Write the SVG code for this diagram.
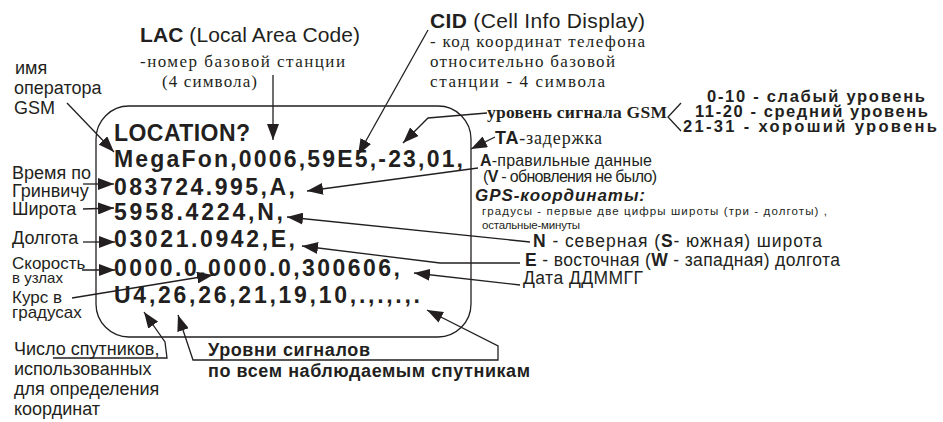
<svg xmlns="http://www.w3.org/2000/svg" width="943" height="422" viewBox="0 0 943 422">
<defs>
<style>
.s{font-family:"Liberation Sans",Arial,sans-serif;fill:#231f20}
.r{font-family:"Liberation Serif","Times New Roman",serif;fill:#231f20}
.b{font-weight:bold}
.code{font-family:"Liberation Sans",Arial,sans-serif;font-weight:bold;font-size:23px;fill:#231f20}
.ln{fill:none;stroke:#231f20;stroke-width:1.3}
.ar{marker-end:url(#ah)}
</style>
<marker id="ah" viewBox="0 0 16 12" refX="16" refY="6" markerWidth="16" markerHeight="12" markerUnits="userSpaceOnUse" orient="auto-start-reverse">
<path d="M0,0 L16,6 L0,12 Z" fill="#231f20"/>
</marker>
</defs>
<rect id="frame" x="96" y="106" width="375" height="231" rx="33" class="ln"/>
<g id="screen">
<text class="code" x="114" y="141" textLength="136" lengthAdjust="spacing">LOCATION?</text>
<text class="code" x="114" y="167" textLength="349" lengthAdjust="spacing">MegaFon,0006,59E5,-23,01,</text>
<text class="code" x="114" y="195" textLength="181" lengthAdjust="spacing">083724.995,A,</text>
<text class="code" x="114" y="220" textLength="169" lengthAdjust="spacing">5958.4224,N,</text>
<text class="code" x="114" y="247" textLength="181" lengthAdjust="spacing">03021.0942,E,</text>
<text class="code" x="114" y="276" textLength="286" lengthAdjust="spacing">0000.0,0000.0,300606,</text>
<text class="code" x="114" y="303" textLength="306" lengthAdjust="spacing">U4,26,26,21,19,10,.,.,.,.</text>
</g>
<g id="lac">
<text class="s" x="140" y="42" font-size="21" textLength="220" lengthAdjust="spacing"><tspan class="b">LAC</tspan> (Local Area Code)</text>
<text class="r" x="140" y="67" font-size="17" textLength="205" lengthAdjust="spacing">-номер базовой станции</text>
<text class="r" x="162" y="87" font-size="17" textLength="95" lengthAdjust="spacing">(4 символа)</text>
</g>
<g id="cid">
<text class="s" x="430" y="28" font-size="21" textLength="215" lengthAdjust="spacing"><tspan class="b">CID</tspan> (Cell Info Display)</text>
<text class="r" x="430" y="47" font-size="17" textLength="215" lengthAdjust="spacing">- код координат телефона</text>
<text class="r" x="430" y="67" font-size="17" textLength="185" lengthAdjust="spacing">относительно базовой</text>
<text class="r" x="430" y="87" font-size="17" textLength="175" lengthAdjust="spacing">станции - 4 символа</text>
</g>
<g id="gsm-level">
<text class="r b" x="487" y="118" font-size="17.5" textLength="180" lengthAdjust="spacing">уровень сигнала GSM</text>
<text class="s b" x="707" y="102" font-size="16.5" textLength="218" lengthAdjust="spacing">0-10 - слабый уровень</text>
<text class="s b" x="695" y="117" font-size="16.5" textLength="233" lengthAdjust="spacing">11-20 - средний уровень</text>
<text class="s b" x="683" y="132" font-size="16.5" textLength="254" lengthAdjust="spacing">21-31 - хороший уровень</text>
</g>
<g id="ta">
<text x="495" y="144" font-size="18" textLength="107" lengthAdjust="spacing"><tspan class="s b">TA</tspan><tspan class="r">-задержка</tspan></text>
</g>
<g id="valid">
<text class="s" x="480" y="166" font-size="16" textLength="172" lengthAdjust="spacing"><tspan class="b">A</tspan>-правильные данные</text>
<text class="s" x="483" y="182" font-size="16" textLength="174" lengthAdjust="spacing">(<tspan class="b">V</tspan> - обновления не было)</text>
</g>
<g id="gps">
<text class="s b" x="475" y="201" font-size="17" font-style="italic" textLength="170" lengthAdjust="spacing">GPS-координаты:</text>
<text class="s" x="482" y="215" font-size="11.5" textLength="345" lengthAdjust="spacing">градусы - первые две цифры широты (три -  долготы) ,</text>
<text class="s" x="482" y="229" font-size="11.5" textLength="98" lengthAdjust="spacing">остальные-минуты</text>
</g>
<g id="ns">
<text class="s" x="533" y="247" font-size="17.5" textLength="289" lengthAdjust="spacing"><tspan class="b">N</tspan> - северная (<tspan class="b">S</tspan>- южная) широта</text>
</g>
<g id="ew">
<text class="s" x="525" y="266" font-size="17.5" textLength="315" lengthAdjust="spacing"><tspan class="b">E</tspan> - восточная (<tspan class="b">W</tspan> - западная) долгота</text>
</g>
<g id="date">
<text class="s" x="523" y="284" font-size="17.5" textLength="120" lengthAdjust="spacing">Дата ДДММГГ</text>
</g>
<g id="operator">
<text class="s" x="15" y="74" font-size="18">имя</text>
<text class="s" x="14" y="94" font-size="18">оператора</text>
<text class="s" x="14" y="114" font-size="18">GSM</text>
</g>
<g id="time">
<text class="s" x="12" y="179" font-size="18">Время по</text>
<text class="s" x="12" y="197" font-size="18">Гринвичу</text>
</g>
<g id="lat"><text class="s" x="12" y="215" font-size="18">Широта</text></g>
<g id="lon"><text class="s" x="12" y="244" font-size="18">Долгота</text></g>
<g id="speed">
<text class="s" x="12" y="269" font-size="17">Скорость</text>
<text class="s" x="12" y="283" font-size="15">в узлах</text>
</g>
<g id="course">
<text class="s" x="12" y="303" font-size="17">Курс в</text>
<text class="s" x="12" y="318" font-size="17">градусах</text>
</g>
<g id="satcount">
<text class="s" x="14" y="355" font-size="18">Число спутников,</text>
<text class="s" x="14" y="375" font-size="18">использованных</text>
<text class="s" x="14" y="395" font-size="18">для определения</text>
<text class="s" x="14" y="415" font-size="18">координат</text>
</g>
<g id="levels">
<text class="s b" x="208" y="356" font-size="18" textLength="162" lengthAdjust="spacing">Уровни сигналов</text>
<text class="s b" x="208" y="377" font-size="18" textLength="322" lengthAdjust="spacing">по всем наблюдаемым спутникам</text>
</g>
<g id="connectors">
<path class="ln ar" d="M67,103 L114,152"/>
<path class="ln ar" d="M273,75 L273,140"/>
<path class="ln ar" d="M428,30 L358,155"/>
<path class="ln ar" d="M487,113 L428,118 L403,143"/>
<path class="ln ar" d="M495,137 L471,149"/>
<path class="ln ar" d="M478,168 L307,191"/>
<path class="ln ar" d="M530,242 L287,217"/>
<path class="ln ar" d="M520,263 L440,263 L302,246"/>
<path class="ln ar" d="M520,285 L414,273"/>
<path class="ln ar" d="M53,358 L167,358 L165,342 L144,312"/>
<path class="ln ar" d="M178,315 L193,360 L498,360 L498,346 L427,310" marker-start="url(#ah)"/>
<path class="ln ar" d="M83,184 L114,184"/>
<path class="ln ar" d="M83,209 L114,208"/>
<path class="ln ar" d="M83,242 L115,242"/>
<path class="ln ar" d="M82,270 L115,270"/>
<path class="ln ar" d="M72,298 L213,275"/>
<path class="ln" d="M681,103 L668,117 L681,131"/>
</g>
</svg>
